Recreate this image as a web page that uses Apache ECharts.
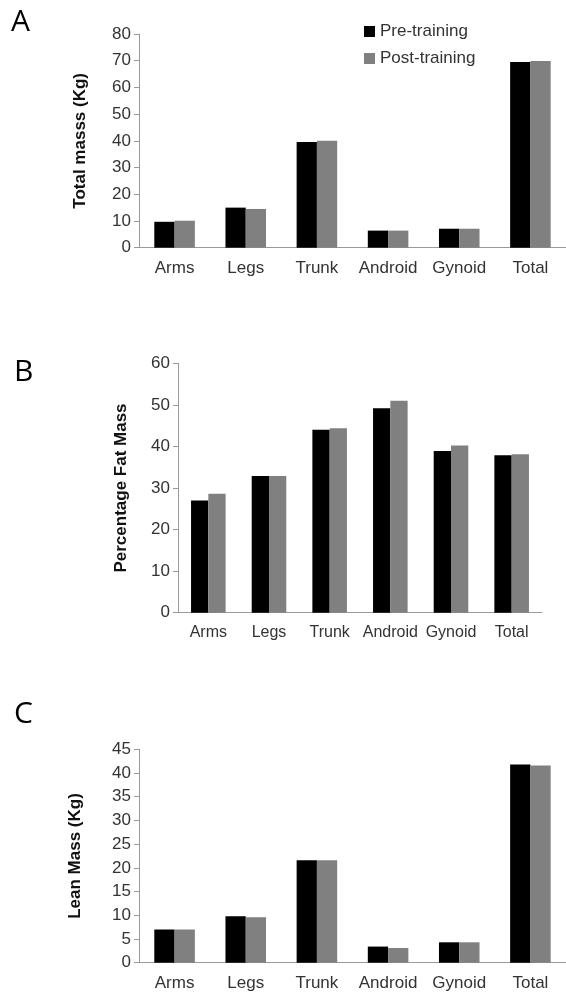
<!DOCTYPE html>
<html><head><meta charset="utf-8">
<script src="https://cdn.jsdelivr.net/npm/echarts@6/dist/echarts.min.js"></script>
<style>html,body{margin:0;padding:0;background:#fff}#c{width:566px;height:995px}</style>
</head><body><div id="c"></div>
<script>
const categories = ['Arms','Legs','Trunk','Android','Gynoid','Total'];
const seriesNames = ['Pre-training','Post-training'];
const totalPre  = [9.7, 15.0, 39.6, 6.4, 7.1, 69.5];
const totalPost = [10.1, 14.5, 40.0, 6.4, 7.1, 69.9];
const fatPre    = [27.0, 32.9, 44.0, 49.2, 38.9, 37.9];
const fatPost   = [28.6, 32.9, 44.4, 51.0, 40.2, 38.1];
const leanPre   = [7.0, 9.8, 21.6, 3.4, 4.3, 41.8];
const leanPost  = [7.0, 9.6, 21.6, 3.1, 4.3, 41.6];
const yTitles = ['Total masss (Kg)','Percentage Fat Mass','Lean Mass (Kg)'];
const yMax = [80, 60, 45];
const yInterval = [10, 10, 5];
const panelLetters = ['A','B','C'];

const FONT = '"Liberation Sans", Arial, sans-serif';
const axisColor = '#9a9a9a';
const grids = [
  {left:139, width:430, top:34, height:213.7},
  {left:178, width:364, top:363.3, height:249.4},
  {left:139, width:430, top:749.3, height:213.4}
];
const nameGaps = [50, 48, 55];
const xAxes = grids.map((g,i)=>({
  type:'category', gridIndex:i, data:categories,
  axisLine:{lineStyle:{color:axisColor, width:1}},
  axisTick:{show:false},
  axisLabel:{interval:0, hideOverlap:false, color:'#333', fontSize:i===1?16:17, fontFamily:FONT, margin:12}
}));
const yAxes = grids.map((g,i)=>({
  type:'value', gridIndex:i, min:0, max:yMax[i], interval:yInterval[i],
  name:yTitles[i], nameLocation:'middle', nameGap:nameGaps[i],
  nameTextStyle:{fontSize:17, fontWeight:'bold', color:'#111', fontFamily:FONT},
  axisLine:{show:true, lineStyle:{color:axisColor, width:1}},
  axisTick:{show:true, length:5, lineStyle:{color:axisColor}},
  splitLine:{show:false},
  axisLabel:{color:'#333', fontSize:17, fontFamily:FONT, margin:8}
}));
const dataSets = [[totalPre,totalPost],[fatPre,fatPost],[leanPre,leanPost]];
const colors = ['#000000','#808080'];
const series = [];
dataSets.forEach((pair,i)=>{
  pair.forEach((d,j)=>{
    series.push({
      type:'bar', name:seriesNames[j], xAxisIndex:i, yAxisIndex:i, data:d,
      itemStyle:{color:colors[j]}, barGap:'0%', barCategoryGap:'43%',
      emphasis:{disabled:true}
    });
  });
});
const letterPos = [[11,26],[14,376],[14,718]];
const chart = echarts.init(document.getElementById('c'), null, {renderer:'canvas'});
chart.setOption({
  animation:false,
  grid:grids,
  xAxis:xAxes,
  yAxis:yAxes,
  legend:{
    data:seriesNames, orient:'vertical', left:359, top:18, itemWidth:11, itemHeight:11,
    itemGap:10, icon:'rect', selectedMode:false,
    textStyle:{fontSize:17, color:'#333', fontFamily:FONT}
  },
  graphic: panelLetters.map((t,i)=>({
    type:'text', left:letterPos[i][0], top:letterPos[i][1]-19,
    style:{text:t, fontSize:30, fontFamily:'"Open Sans", "Noto Sans", sans-serif', fill:'#000'}
  })),
  series:series
});
</script></body></html>
